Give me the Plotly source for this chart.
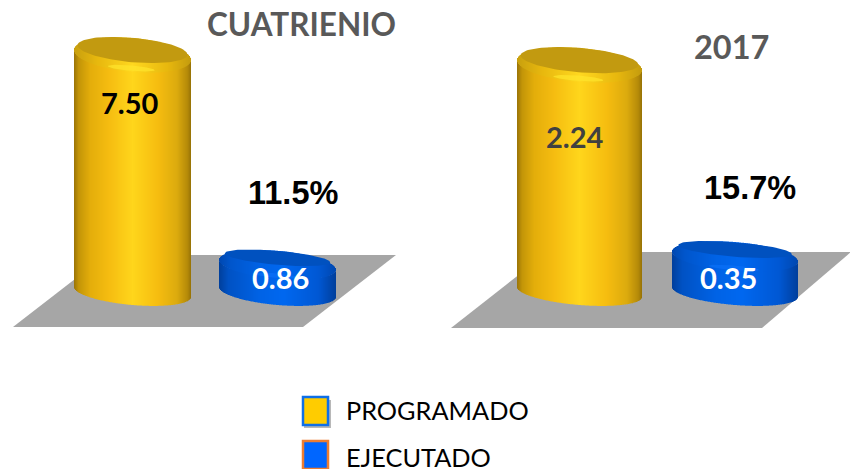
import numpy as np
import plotly.graph_objects as go

W, H = 850, 469
series_names = ["PROGRAMADO", "EJECUTADO"]
panel_titles = ["CUATRIENIO", "2017"]
programado = [7.50, 2.24]
ejecutado = [0.86, 0.35]
porcentaje = ["11.5%", "15.7%"]
label_colors_prog = ["#000000", "#404040"]

GOLD_SIDE = [(0, "#9a7407"), (.04, "#c39508"), (.14, "#e4ae0b"), (.3, "#f6bd11"), (.5, "#ffd61c"),
             (.72, "#f6bd10"), (.88, "#dcab0e"), (.97, "#b58a09"), (1, "#967206")]
BLUE_SIDE = [(0, "#003f9c"), (.08, "#0052c4"), (.35, "#0063e6"), (.55, "#0068f0"),
             (.85, "#0058d4"), (1, "#003f9c")]
GOLD_RIM = [(0, "#c8a00e"), (.2, "#e8b80e"), (.5, "#ffd820"), (.8, "#e8b80e"), (1, "#c49c0e")]
BLUE_RIM = [(0, "#0048b0"), (.1, "#0056cc"), (.35, "#0063e6"), (.55, "#0068f0"), (.85, "#0058d4"), (1, "#0048b0")]
GOLD_TOP, BLUE_TOP = "#c29a10", "#0051bf"
GOLD_HI, BLUE_HI = "#ffe52c", "#0a70f8"

# shape of the darker top face, per cylinder type: lift in px and relative half-axes
TOP_FACE = {"gold": (5.0, .94, .72), "blue": (7.0, .90, .50)}


def hexrgb(c):
    return np.array([int(c[i:i + 2], 16) for i in (1, 3, 5)], float)


def ramp(stops, t):
    xs = [s[0] for s in stops]
    cols = np.array([hexrgb(s[1]) for s in stops])
    return ["rgb(%d,%d,%d)" % tuple(np.interp(v, xs, cols[:, k]) for k in range(3)) for v in t]


# panel geometry: pixel origin of value 0, pixels per unit, slot centres and bar width
panels = [
    dict(x0=0, x1=425, c=[132.5, 277.5], w=[117, 117], base=292, s=31.6, b_cap=[17, 14], xa="x", ya="y"),
    dict(x0=425, x1=850, c=[579.5, 735], w=[125, 126], base=292, s=101.3, b_cap=[17, 14.5], xa="x2", ya="y2"),
]

fig = go.Figure()
annotations = []


def add_cylinder(p, i, value, side, rim, top, hi, face):
    wpx = p["w"][i]
    unit = p["c"][1] - p["c"][0]
    s = p["s"]
    a = wpx / 2
    tilt = 5.0 / s          # rise across half the width, in value units
    b_base = 13.0 / s
    b_cap = p["b_cap"][i] / s
    n = int(wpx)
    u = (np.arange(n) + .5) / n * 2 - 1
    x = i + u * a / unit
    bw = [1.0 / unit] * n
    low = -tilt * u - b_base * np.sqrt(1 - u ** 2)
    kw = dict(xaxis=p["xa"], yaxis=p["ya"], showlegend=False, hoverinfo="skip")
    # side wall: each 1px strip is exactly `value` tall
    fig.add_trace(go.Bar(x=x, y=[value] * n, base=low, width=bw,
                         marker=dict(color=ramp(side, (u + 1) / 2), line_width=0), **kw))
    # rim of the cap
    h = 2 * b_cap * np.sqrt(1 - u ** 2)
    capc = value - tilt * u
    fig.add_trace(go.Bar(x=x, y=h, base=capc - h / 2, width=bw,
                         marker=dict(color=ramp(rim, (u + 1) / 2), line_width=0), **kw))
    th = np.linspace(0, 2 * np.pi, 120)

    def ellipse(du, dv, sa, sb, color, op=1.0):
        ux = np.cos(th) * sa + du
        yy = value + dv / s - tilt * ux + np.sin(th) * sb * b_cap
        fig.add_trace(go.Scatter(x=i + ux * a / unit, y=yy, mode="lines", line=dict(width=0),
                                 fill="toself", fillcolor=color, opacity=op, **kw))

    ellipse(-.02, -b_cap * s * .78, .40, .16, hi, .7)
    lift, sa, sb = face
    ellipse(0, lift, sa, sb, top)


for idx, p in enumerate(panels):
    add_cylinder(p, 0, programado[idx], GOLD_SIDE, GOLD_RIM, GOLD_TOP, GOLD_HI, TOP_FACE["gold"])
    add_cylinder(p, 1, ejecutado[idx], BLUE_SIDE, BLUE_RIM, BLUE_TOP, BLUE_HI, TOP_FACE["blue"])

layout_axes = {}
for j, p in enumerate(panels):
    unit = p["c"][1] - p["c"][0]
    sfx = "" if j == 0 else "2"
    layout_axes["xaxis" + sfx] = dict(domain=[p["x0"] / W, p["x1"] / W], visible=False, fixedrange=True,
                                      range=[(p["x0"] - p["c"][0]) / unit, (p["x1"] - p["c"][0]) / unit])
    layout_axes["yaxis" + sfx] = dict(domain=[0, 1], visible=False, fixedrange=True,
                                      range=[(p["base"] - H) / p["s"], p["base"] / p["s"]])


def px(x):
    return x / W


def py(y):
    return 1 - y / H


def poly(points, fill):
    d = "M " + " L ".join(f"{px(a):.5f},{py(b):.5f}" for a, b in points) + " Z"
    return dict(type="path", path=d, xref="paper", yref="paper", fillcolor=fill, line_width=0, layer="below")


def rect(x0, y0, x1, y1, fill, line=None, lw=0, layer="below"):
    return dict(type="rect", xref="paper", yref="paper", x0=px(x0), x1=px(x1), y0=py(y0), y1=py(y1),
                fillcolor=fill, line=dict(color=line or fill, width=lw), layer=layer)


shapes = [
    poly([(13, 327), (303, 327), (396, 255), (106, 255)], "#a6a6a6"),
    poly([(451, 328), (762, 328), (851, 252), (548, 252)], "#a6a6a6"),
    rect(304, 400, 331, 428, "#b8b8b8"),
    rect(303, 397, 328, 425, "#ffcc00", "#0f6fe8", 2.5),
    rect(303, 441, 328, 469, "#0066ff", "#ed7d31", 2.5),
]


def note(x, y, text, size, color, family="Lato", bold=True, anchor="center"):
    annotations.append(dict(xref="paper", yref="paper", x=px(x), y=py(y), text=f"<b>{text}</b>" if bold else text,
                            showarrow=False, xanchor=anchor, yanchor="middle",
                            font=dict(family=family, size=size, color=color)))


note(301, 24, panel_titles[0], 31.5, "#595959")
note(731, 47, panel_titles[1], 32.5, "#595959")
note(130, 103, f"{programado[0]:.2f}", 29, label_colors_prog[0])
note(575, 137, f"{programado[1]:.2f}", 29, label_colors_prog[1])
note(280, 277, f"{ejecutado[0]:.2f}", 29, "#ffffff")
note(728, 277, f"{ejecutado[1]:.2f}", 29, "#ffffff")
note(293, 193, porcentaje[0], 32.5, "#000000", "Liberation Sans")
note(750, 188, porcentaje[1], 32.5, "#000000", "Liberation Sans")
note(344, 410, series_names[0], 25.3, "#000000", bold=False, anchor="left")
note(344, 457, series_names[1], 25.3, "#000000", bold=False, anchor="left")

fig.update_layout(width=W, height=H, margin=dict(l=0, r=0, t=0, b=0), paper_bgcolor="white", plot_bgcolor="rgba(0,0,0,0)",
                  barmode="overlay", shapes=shapes, annotations=annotations, showlegend=False, **layout_axes)
fig.write_html("out.html", config=dict(displayModeBar=False),
               post_script="document.body.style.margin='0';document.body.style.overflow='hidden';")
